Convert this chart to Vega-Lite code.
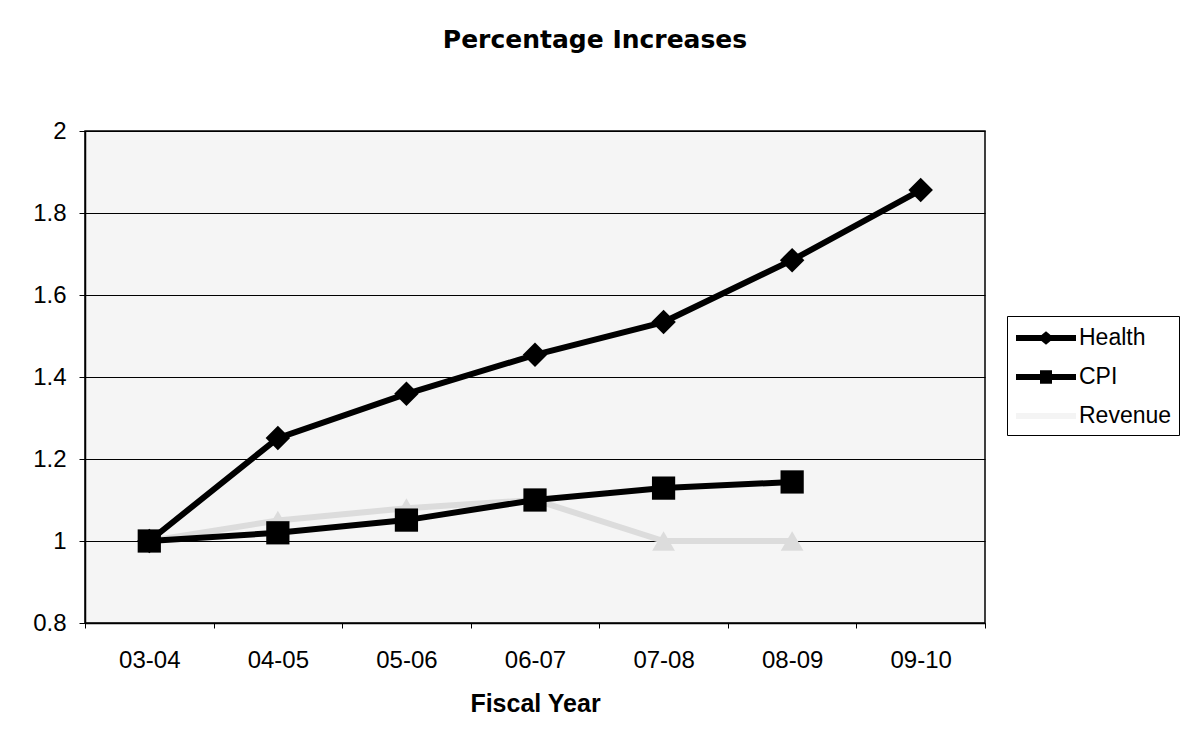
{
  "$schema": "https://vega.github.io/schema/vega-lite/v6.json",
  "autosize": "none",
  "width": 900,
  "height": 492,
  "padding": {"left": 85, "top": 131, "right": 200, "bottom": 123},
  "background": "white",
  "config": {
    "font": "Liberation Sans",
    "view": {"stroke": "black", "strokeWidth": 1.5, "fill": "#f5f5f5"}
  },
  "title": {
    "text": "Percentage Increases",
    "fontSize": 25,
    "fontWeight": "bold",
    "font": "DejaVu Sans",
    "anchor": "middle",
    "frame": "group",
    "dx": 60,
    "offset": 66,
    "color": "black"
  },
  "data": {
    "values": [
      {"year": "03-04", "series": "Revenue", "value": 1.0},
      {"year": "04-05", "series": "Revenue", "value": 1.05},
      {"year": "05-06", "series": "Revenue", "value": 1.08},
      {"year": "06-07", "series": "Revenue", "value": 1.1},
      {"year": "07-08", "series": "Revenue", "value": 1.0},
      {"year": "08-09", "series": "Revenue", "value": 1.0},
      {"year": "03-04", "series": "CPI", "value": 1.0},
      {"year": "04-05", "series": "CPI", "value": 1.02},
      {"year": "05-06", "series": "CPI", "value": 1.051},
      {"year": "06-07", "series": "CPI", "value": 1.1},
      {"year": "07-08", "series": "CPI", "value": 1.129},
      {"year": "08-09", "series": "CPI", "value": 1.144},
      {"year": "03-04", "series": "Health", "value": 1.0},
      {"year": "04-05", "series": "Health", "value": 1.251},
      {"year": "05-06", "series": "Health", "value": 1.359},
      {"year": "06-07", "series": "Health", "value": 1.454},
      {"year": "07-08", "series": "Health", "value": 1.534},
      {"year": "08-09", "series": "Health", "value": 1.685},
      {"year": "09-10", "series": "Health", "value": 1.856}
    ]
  },
  "encoding": {
    "x": {
      "field": "year",
      "type": "ordinal",
      "bandPosition": 0.5,
      "scale": {"type": "band", "paddingInner": 0, "paddingOuter": 0},
      "axis": {
        "title": "Fiscal Year",
        "titleFontSize": 25,
        "titleFontWeight": "bold",
        "titleColor": "black",
        "titlePadding": 19,
        "labelAngle": 0,
        "labelFontSize": 24,
        "labelColor": "black",
        "labelPadding": 20,
        "tickBand": "extent",
        "tickSize": 5,
        "tickColor": "black",
        "domainColor": "black",
        "domainWidth": 1.5,
        "grid": false
      }
    },
    "y": {
      "field": "value",
      "type": "quantitative",
      "scale": {"domain": [0.8, 2], "nice": false, "zero": false},
      "axis": {
        "title": null,
        "values": [0.8, 1, 1.2, 1.4, 1.6, 1.8, 2],
        "format": "~g",
        "labelFontSize": 24,
        "labelColor": "black",
        "labelPadding": 13,
        "tickSize": 6,
        "tickColor": "black",
        "domainColor": "black",
        "domainWidth": 1.5,
        "grid": true,
        "gridColor": "black",
        "gridWidth": 1.2,
        "gridOpacity": 1
      }
    }
  },
  "layer": [
    {
      "mark": {"type": "line", "strokeWidth": 6},
      "encoding": {
        "stroke": {
          "field": "series",
          "type": "nominal",
          "scale": {"domain": ["Revenue", "CPI", "Health"], "range": ["#dcdcdc", "black", "black"]},
          "legend": null
        },
        "order": {"field": "year"}
      }
    },
    {
      "transform": [{"filter": "datum.series === 'Revenue'"}],
      "mark": {"type": "point", "shape": "triangle-up", "filled": true, "color": "#dcdcdc", "opacity": 1, "size": 520}
    },
    {
      "transform": [{"filter": "datum.series === 'CPI'"}],
      "mark": {"type": "point", "shape": "square", "filled": true, "color": "black", "opacity": 1, "size": 540}
    },
    {
      "transform": [{"filter": "datum.series === 'Health'"}],
      "mark": {"type": "point", "shape": "diamond", "filled": true, "color": "black", "opacity": 1, "size": 600}
    },
    {
      "transform": [{"filter": "false"}],
      "mark": {"type": "point", "filled": true, "opacity": 1},
      "encoding": {
        "shape": {
          "field": "series",
          "type": "nominal",
          "sort": ["Health", "CPI", "Revenue"],
          "scale": {
            "domain": ["Health", "CPI", "Revenue"],
            "range": [
              "M-2,-0.2L-0.3,-0.2L0,-0.45L0.3,-0.2L2,-0.2L2,0.2L0.3,0.2L0,0.45L-0.3,0.2L-2,0.2Z",
              "M-2,-0.2L-0.4,-0.2L-0.4,-0.45L0.4,-0.45L0.4,-0.2L2,-0.2L2,0.2L0.4,0.2L0.4,0.45L-0.4,0.45L-0.4,0.2L-2,0.2Z",
              "M-2,-0.2L2,-0.2L2,0.2L-2,0.2Z"
            ]
          }
        },
        "color": {
          "field": "series",
          "type": "nominal",
          "sort": ["Health", "CPI", "Revenue"],
          "scale": {"domain": ["Health", "CPI", "Revenue"], "range": ["black", "black", "#f4f4f4"]},
          "legend": {
            "title": null,
            "orient": "none",
            "legendX": 922,
            "legendY": 185,
            "padding": 7,
            "strokeColor": "black",
            "fillColor": "white",
            "labelFontSize": 23,
            "labelColor": "black",
            "labelOffset": 18,
            "symbolSize": 900,
            "symbolOffset": 17,
            "rowPadding": 12,
            "symbolStrokeWidth": 0
          }
        }
      }
    }
  ]
}
